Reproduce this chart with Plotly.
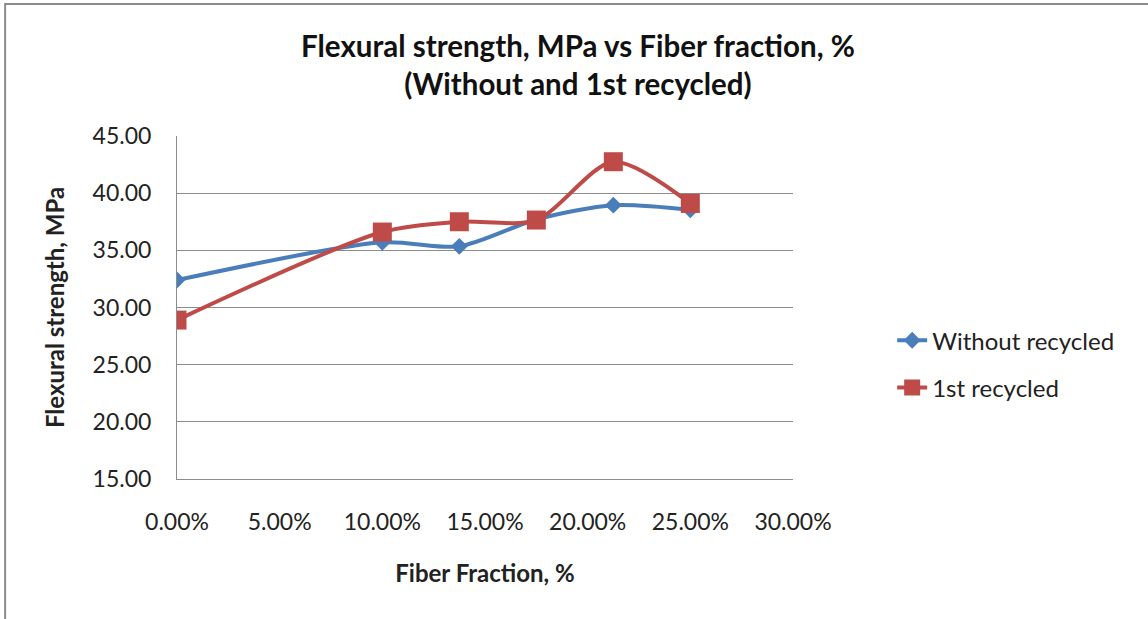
import plotly.graph_objects as go

fiber_fraction = [0.0, 0.10, 0.1375, 0.175, 0.2125, 0.25]
without_recycled = [32.4, 35.7, 35.35, 37.7, 38.95, 38.55]
first_recycled = [28.9, 36.6, 37.5, 37.65, 42.75, 39.1]
x_ticks = [0.0, 0.05, 0.10, 0.15, 0.20, 0.25, 0.30]
x_tick_labels = ["0.00%", "5.00%", "10.00%", "15.00%", "20.00%", "25.00%", "30.00%"]
y_ticks = [15, 20, 25, 30, 35, 40, 45]
y_tick_labels = ["15.00", "20.00", "25.00", "30.00", "35.00", "40.00", "45.00"]

FONT = "Lato, Liberation Sans, Arial, sans-serif"

fig = go.Figure()
fig.add_trace(go.Scatter(
    x=fiber_fraction, y=without_recycled, name="Without recycled",
    mode="lines+markers", legendgroup="a",
    line=dict(color="#4a7ebb", width=4, shape="spline", smoothing=0.8),
    marker=dict(symbol="diamond", size=13, color="#4a7ebb"),
))
fig.add_trace(go.Scatter(
    x=fiber_fraction, y=first_recycled, name="1st recycled",
    mode="lines+markers", legendgroup="b",
    line=dict(color="#be4b48", width=4, shape="spline", smoothing=0.8),
    marker=dict(symbol="square", size=19, color="#be4b48"),
))

fig.update_layout(
    width=1148, height=619,
    margin=dict(l=177, r=355, t=136, b=140),
    paper_bgcolor="white", plot_bgcolor="white",
    font=dict(family=FONT, color="#222222", size=23),
    title=dict(
        text="<b>Flexural strength, MPa vs Fiber fraction, %<br>(Without and 1st recycled)</b>",
        x=0.5035, xanchor="center", y=0.908, yanchor="middle",
        font=dict(size=29.5, family=FONT, color="#111111"),
    ),
    xaxis=dict(
        range=[0, 0.30], tickvals=x_ticks, ticktext=x_tick_labels,
        showgrid=False, showline=True, linecolor="#8c8c8c", linewidth=1,
        ticks="", zeroline=False, ticklabelstandoff=22,
        tickfont=dict(size=23),
        title=dict(text="<b>Fiber Fraction, %</b>", font=dict(size=24), standoff=31),
    ),
    yaxis=dict(
        range=[15, 45], tickvals=y_ticks, ticktext=y_tick_labels,
        showgrid=True, gridcolor="#8c8c8c", gridwidth=1,
        showline=True, linecolor="#8c8c8c", linewidth=1,
        ticks="", zeroline=False, ticklabelstandoff=20,
        tickfont=dict(size=23),
        title=dict(text="<b>Flexural strength, MPa</b>", font=dict(size=24), standoff=21),
    ),
    legend=dict(
        x=1.161, xanchor="left", y=0.335, yanchor="middle",
        font=dict(size=24), tracegroupgap=13, bgcolor="rgba(0,0,0,0)",
    ),
    shapes=[dict(
        type="rect", xref="paper", yref="paper",
        x0=-0.279, x1=1.62, y0=-0.42, y1=1.385,
        line=dict(color="#8c8c8c", width=2), fillcolor="rgba(0,0,0,0)", layer="below",
    )],
)

fig.write_html("out.html")
